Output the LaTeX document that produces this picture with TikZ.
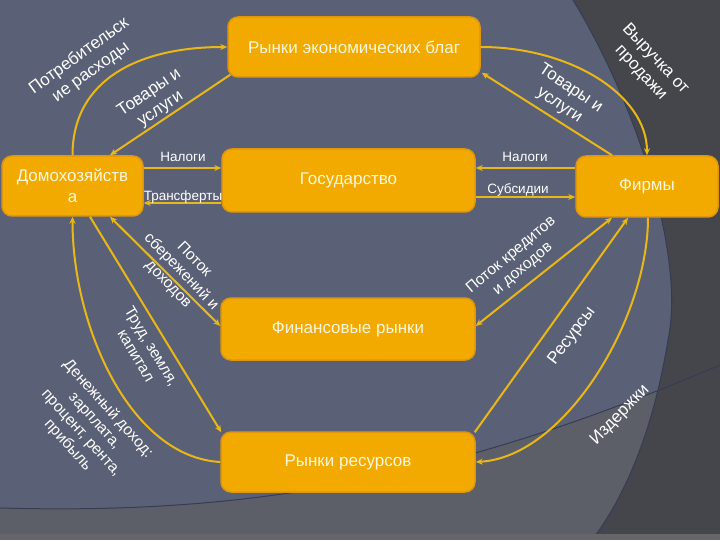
\documentclass[tikz,border=0pt]{standalone}
\usepackage{fontspec}
\setmainfont{Liberation Sans}
\usetikzlibrary{arrows.meta}
\definecolor{bgcol}{RGB}{90,97,118}
\definecolor{darkbg}{RGB}{68,70,75}
\definecolor{midgray}{RGB}{93,95,104}
\definecolor{edgeline}{RGB}{55,60,85}
\definecolor{stripcol}{RGB}{102,102,106}
\definecolor{boxfill}{RGB}{242,170,0}
\definecolor{boxedge}{RGB}{222,150,15}
\definecolor{boxtext}{RGB}{255,247,220}
\definecolor{flowcol}{RGB}{234,184,22}
\begin{document}
\begin{tikzpicture}[x=1pt,y=-1pt,
  box/.style={draw=boxedge, line width=1.5pt, fill=boxfill, rounded corners=10pt,
    text=boxtext, font=\fontsize{17}{21}\selectfont, inner sep=0pt, align=center},
  flow/.style={draw=flowcol, line width=2pt, -{Stealth[length=7pt,width=6pt]}},
  flowboth/.style={draw=flowcol, line width=2pt, {Stealth[length=7pt,width=6pt]}-{Stealth[length=7pt,width=6pt]}},
  lbl/.style={text=white, font=\fontsize{17}{20}\selectfont, align=center, inner sep=0pt},
  slbl/.style={text=white, font=\fontsize{13.5}{15}\selectfont, inner sep=0pt}]
\useasboundingbox (0,0) rectangle (720,540);
% background
\fill[bgcol] (0,0) rectangle (720,540);
\fill[midgray] (0,508) .. controls (250,515) and (450,480) .. (720,365) -- (720,540) -- (0,540) -- cycle;
\fill[darkbg] (573,0) .. controls (640,110) and (685,260) .. (668,340) .. controls (655,420) and (630,490) .. (592,540) -- (720,540) -- (720,0) -- cycle;
\draw[edgeline, line width=1pt] (0,508) .. controls (250,515) and (450,480) .. (720,365);
\draw[edgeline, line width=1pt] (573,0) .. controls (640,110) and (685,260) .. (668,340) .. controls (655,420) and (630,490) .. (592,540);
\fill[stripcol] (0,534) rectangle (720,540);

% boxes
\node[box, minimum width=252pt, minimum height=60pt] (top) at (354,47) {Рынки экономических благ};
\node[box, minimum width=253pt, minimum height=63pt] (gov) at (348.5,180.5) {Государство};
\node[box, minimum width=141pt, minimum height=60pt] (house) at (72.5,186) {Домохозяйств\\а};
\node[box, minimum width=142pt, minimum height=61pt] (firms) at (647,186.5) {Фирмы};
\node[box, minimum width=254pt, minimum height=62pt] (fin) at (348,329) {Финансовые рынки};
\node[box, minimum width=254pt, minimum height=60pt] (res) at (348,462) {Рынки ресурсов};

% connectors
\draw[flow] (house.north) .. controls +(0,-76) and +(-88,0) .. (top.west);
\draw[flow] ([xshift=3pt,yshift=3pt]top.south west) -- ([xshift=37.5pt]house.north);
\draw[flow] ([xshift=-35pt]firms.north) -- ([xshift=1pt,yshift=5pt]top.south east);
\draw[flow] (top.east) .. controls +(90,0) and +(0,-60) .. (firms.north);

\draw[flow] ([yshift=18pt]house.east) -- ([yshift=18pt]house.east -| gov.west);
\draw[flow] ([yshift=-17pt]house.east -| gov.west) -- ([yshift=-17pt]house.east);
\draw[flow] ([yshift=18.5pt]firms.west) -- ([yshift=18.5pt]firms.west -| gov.east);
\draw[flow] ([yshift=-10.5pt]firms.west -| gov.east) -- ([yshift=-10.5pt]firms.west);

\draw[flowboth] ([xshift=37.5pt]house.south) -- ([yshift=3pt]fin.west);
\draw[flow] ([xshift=17.5pt]house.south) -- ([xshift=1pt,yshift=-1pt]res.north west);
\draw[flow] (res.west) .. controls +(-90,-5) and +(0,110) .. (house.south);

\draw[flowboth] ([xshift=-35pt]firms.south) -- ([yshift=3pt]fin.east);
\draw[flow] ([xshift=-1pt,yshift=-1pt]res.north east) -- ([xshift=-19pt]firms.south);
\draw[flow] ([xshift=1pt]firms.south) .. controls +(0,100) and +(90,-5) .. (res.east);

% labels
\node[lbl, rotate=36] (l1) at (85,64) {Потребительск\\ие расходы};
\node[lbl, rotate=34] (l2) at (155,101) {Товары и\\услуги};
\node[lbl, rotate=-34] (l3) at (565,97) {Товары и\\услуги};
\node[lbl, rotate=-47] (l4) at (648,66) {Выручка от\\продажи};
\node[slbl] (l5) at (183,157) {Налоги};
\node[slbl] (l6) at (183,197) {Трансферты};
\node[slbl] (l7) at (525,157) {Налоги};
\node[slbl] (l8) at (518,190) {Субсидии};
\node[lbl, rotate=-46, font=\fontsize{15.5}{18}\selectfont] (l9) at (181,272) {Поток\\сбережений и\\доходов};
\node[lbl, rotate=-59, font=\fontsize{15.5}{18}\selectfont] (l10) at (144,351) {Труд, земля,\\капитал};
\node[lbl, rotate=-48, font=\fontsize{15.5}{18}\selectfont] (l11) at (88,427) {Денежный доход:\\зарплата,\\процент, рента,\\прибыль};
\node[lbl, rotate=40, font=\fontsize{15.5}{18}\selectfont] (l12) at (517,262) {Поток кредитов\\и доходов};
\node[lbl, rotate=53] (l13) at (572,336) {Ресурсы};
\node[lbl, rotate=46] (l14) at (620,415) {Издержки};
\end{tikzpicture}
\end{document}
